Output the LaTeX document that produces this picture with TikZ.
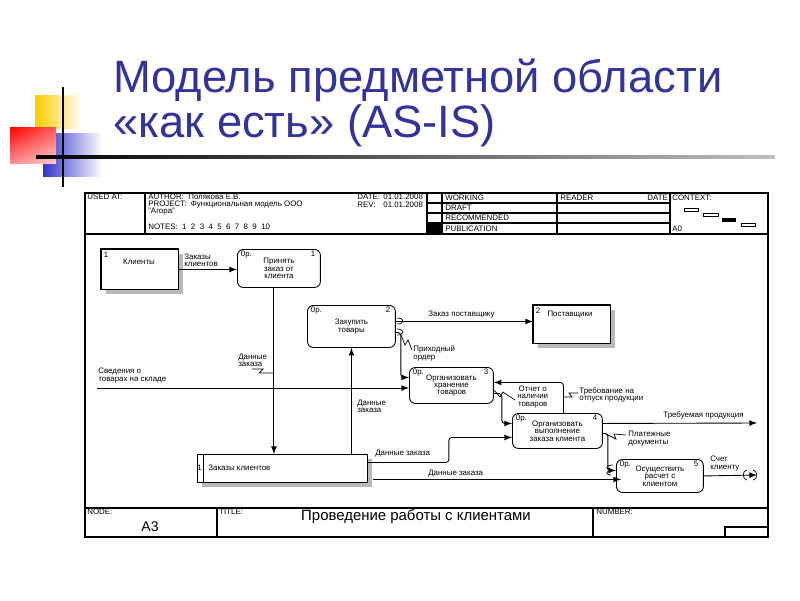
\documentclass[tikz,border=0pt]{standalone}
\usepackage{fontspec}
\setmainfont{Liberation Sans}
\usetikzlibrary{positioning,shadows,shadings}
\definecolor{titleblue}{RGB}{51,51,153}
\definecolor{sqyellow}{RGB}{255,204,0}
\definecolor{sqblue}{RGB}{51,51,204}

\begin{document}
\begin{tikzpicture}[x=0.02cm, y=-0.02cm,
    tx/.style = {font=\fontsize{4.5}{4.2}\selectfont, inner sep=0pt, align=left},
    big/.style = {font=\fontsize{25.8}{30}\selectfont, text=titleblue, inner sep=0pt, anchor=base west},
    proc/.style = {draw, rounded corners=0.12cm, line width=0.5pt, inner sep=0pt, align=center, anchor=north west, font=\fontsize{4.5}{4.2}\selectfont},
    ext/.style = {draw, fill=white, line width=0.5pt, anchor=north west, drop shadow={shadow xshift=0.09cm, shadow yshift=-0.09cm, fill=gray!55, opacity=1}},
    arr/.style = {-latex, line width=0.5pt, rounded corners=0.06cm},
    zig/.style = {line width=0.4pt},
    frm/.style = {line width=0.6pt}]
  \useasboundingbox (0,0) rectangle (800,600);

  % slide title
  \shade[left color=sqyellow, middle color=sqyellow, right color=white] (35,95) rectangle (82,128);
  \shade[left color=sqblue, middle color=sqblue, right color=white] (43,133) rectangle (102,176);
  \shade[upper left=red, upper right=red!65, lower left=red!45, lower right=red!20] (10,127) rectangle (56,163);
  \draw[line width=1pt] (63,87) -- (63,187);
  \shade[left color=black, right color=black!25] (36,155.5) rectangle (775,158.5);
  \node[big] (t1) at (113,92) {Модель предметной области};
  \node[big] (t2) at (113,137) {«как есть» (AS-IS)};

  % frame
  \draw[frm] (85,193) rectangle (768,537);
  \draw[frm] (85,234) -- (768,234);
  \draw[frm] (85,508) -- (768,508);
  \draw[frm] (145,193) -- (145,234);
  \draw[frm] (427,193) -- (427,234);
  \draw[frm] (442,193) -- (442,234);
  \draw[frm] (557,193) -- (557,234);
  \draw[frm] (670,193) -- (670,234);
  \draw[frm] (427,203) -- (670,203);
  \draw[frm] (427,213) -- (670,213);
  \draw[frm] (427,223) -- (670,223);
  \fill (427,223) rectangle (442,234);
  \draw[line width=0.5pt] (684,208) rectangle (698,211);
  \draw[line width=0.5pt] (703,213) rectangle (718,216);
  \fill (722,218) rectangle (736,222);
  \draw[line width=0.5pt] (741,223) rectangle (755,226);
  \draw[frm] (217,508) -- (217,537);
  \draw[frm] (593,508) -- (593,537);
  \draw[frm] (725,537) |- (768,527);

  % header texts
  \node[tx, anchor=west] (h1) at (87,197) {USED AT:};
  \node[tx, anchor=west] (h2) at (148,196.5) {AUTHOR:\ \ Полякова Е.В.};
  \node[tx, anchor=west] (h3) at (148,204.5) {PROJECT:\ \ Функциональная модель ООО};
  \node[tx, anchor=west] (h4) at (148,211.5) {"Агора"};
  \node[tx, anchor=west] (h5) at (148,227) {NOTES:\ \ 1\ \ 2\ \ 3\ \ 4\ \ 5\ \ 6\ \ 7\ \ 8\ \ 9\ \ 10};
  \node[tx, anchor=west] (h6) at (357,196.5) {DATE:};
  \node[tx, anchor=west] (h7) at (383,196.5) {01.01.2008};
  \node[tx, anchor=west] (h8) at (357,204.5) {REV:};
  \node[tx, anchor=west] (h9) at (383,204.5) {01.01.2008};
  \node[tx, anchor=west] (h10) at (445,198) {WORKING};
  \node[tx, anchor=west] (h11) at (445,208) {DRAFT};
  \node[tx, anchor=west] (h12) at (445,218) {RECOMMENDED};
  \node[tx, anchor=west] (h13) at (445,228.5) {PUBLICATION};
  \node[tx, anchor=west] (h14) at (560,198) {READER};
  \node[tx, anchor=west] (h15) at (647,198) {DATE};
  \node[tx, anchor=west] (h16) at (672,198) {CONTEXT:};
  \node[tx, anchor=west] (h17) at (672,229) {A0};

  % footer texts
  \node[tx, anchor=west] (f1) at (87,511.5) {NODE:};
  \node[font=\fontsize{8}{10}\selectfont, inner sep=0pt] (f2) at (150,527) {A3};
  \node[tx, anchor=west] (f3) at (219,511.5) {TITLE:};
  \node[font=\fontsize{8.5}{10}\selectfont, inner sep=0pt] (f4) at (416,517) {Проведение работы с клиентами};
  \node[tx, anchor=west] (f5) at (596,511.5) {NUMBER:};

  % external entities and store
  \node[ext, minimum width=1.54cm, minimum height=0.8cm] (kl) at (101,249) {};
  \draw[line width=1.4pt] (kl.south west) -- (kl.north west) -- (kl.north east);
  \node[tx, below right=1.5pt and 1.5pt of kl.north west] (kl1) {1};
  \node[tx] (kltx) at (139,262) {Клиенты};

  \node[ext, minimum width=1.54cm, minimum height=0.76cm] (post) at (533,305) {};
  \draw[line width=1.4pt] (post.south west) -- (post.north west) -- (post.north east);
  \node[tx, below right=1.5pt and 1.5pt of post.north west] (post1) {2};
  \node[tx] (posttx) at (570,315) {Поставщики};

  \node[ext, minimum width=3.4cm, minimum height=0.56cm] (zk) at (197,454) {};
  \draw[line width=0.5pt] ([xshift=0.12cm]zk.north west) -- ([xshift=0.12cm]zk.south west);
  \node[tx] (zk1) at (199.5,468) {1};
  \node[tx, anchor=west] (zktx) at (208,468) {Заказы клиентов};

  % processes
  \node[proc, minimum width=1.66cm, minimum height=0.76cm] (p1) at (237,249) {Принять\\заказ от\\клиента};
  \node[tx, below right=1pt and 2pt of p1.north west] (p1a) {0р.};
  \node[tx, below left=1pt and 3pt of p1.north east] (p1b) {1};

  \node[proc, minimum width=1.76cm, minimum height=0.84cm] (p2) at (307,305) {Закупить\\товары};
  \node[tx, below right=1pt and 2pt of p2.north west] (p2a) {0р.};
  \node[tx, below left=1pt and 3pt of p2.north east] (p2b) {2};

  \node[proc, minimum width=1.68cm, minimum height=0.72cm] (p3) at (409,367) {Организовать\\хранение\\товаров};
  \node[tx, below right=1pt and 2pt of p3.north west] (p3a) {0р.};
  \node[tx, below left=1pt and 3pt of p3.north east] (p3b) {3};

  \node[proc, minimum width=1.8cm, minimum height=0.7cm] (p4) at (512,413) {Организовать\\выполнение\\заказа клиента};
  \node[tx, below right=1pt and 2pt of p4.north west] (p4a) {0р.};
  \node[tx, below left=1pt and 3pt of p4.north east] (p4b) {4};

  \node[proc, minimum width=1.74cm, minimum height=0.66cm] (p5) at (616,459) {Осуществить\\расчет с\\клиентом};
  \node[tx, below right=1pt and 2pt of p5.north west] (p5a) {0р.};
  \node[tx, below left=1pt and 3pt of p5.north east] (p5b) {5};

  % free ends
  \coordinate (sv) at (97,388);
  \coordinate (out1) at (757,423);
  \coordinate (out2) at (757,475);

  % connectors
  \draw[arr] (kl.east) -- (kl.east -| p1.west);
  \draw[arr] ([xshift=-0.1cm]p1.south) -- ([xshift=-0.1cm]p1.south |- zk.north);
  \draw[arr] (p2.south |- zk.north) -- (p2.south);
  \draw[arr] ([yshift=0.1cm]p2.east) -- ([yshift=0.1cm]p2.east -| post.west);
  \draw[arr] ([yshift=-0.12cm]p2.east) -- ++(5,0) |- ([yshift=0.16cm]p3.west);
  \draw[arr] (sv) -- (sv -| p3.west);
  \draw[arr] ([xshift=0.12cm]p4.north) |- ([yshift=0.06cm]p3.east);
  \draw[arr] ([yshift=-0.16cm]p3.east) -- ++(8,0) |- ([yshift=0.15cm]p4.west);
  \draw[arr] ([yshift=0.12cm]zk.east) -- ++(81,0) |- ([yshift=-0.13cm]p4.west);
  \draw[arr] ([shift={(0.1cm,-0.22cm)}]zk.east) -- ([shift={(0.1cm,-0.22cm)}]zk.east -| p5.west);
  \draw[arr] ([yshift=0.15cm]p4.east) -- (out1);
  \draw[arr] ([yshift=-0.05cm]p4.east) -- ++(5,0) |- ([yshift=0.11cm]p5.west);
  \draw[arr] (p5.east) -- (out2);

  % tunnels
  \draw[zig] (397,318) .. controls (405,318) and (405,324) .. (397,324);
  \draw[zig] (397,329) .. controls (405,329) and (405,335) .. (397,335);
  \draw[zig] (613,465) .. controls (605,465) and (605,470) .. (611,470);
  \draw[zig] (613,470) .. controls (605,470) and (605,475) .. (611,475);
  \draw[zig] (747,470) .. controls (742,470) and (742,480) .. (747,480);
  \draw[zig] (753,470) .. controls (758,470) and (758,480) .. (753,480);

  % labels
  \node[tx, anchor=west] (l1) at (184,260.5) {Заказы\\клиентов};
  \node[tx, anchor=west] (l2) at (428,315) {Заказ поставщику};
  \node[tx, anchor=west] (l3) at (413,353.5) {Приходный\\ордер};
  \node[tx, anchor=west] (l4) at (238,360.5) {Данные\\заказа};
  \node[tx, anchor=west] (l5) at (98,375.5) {Сведения о\\товарах на складе};
  \node[tx, anchor=west] (l6) at (357,406.5) {Данные\\заказа};
  \node[tx, anchor=west, align=center] (l7) at (517,397) {Отчет о\\наличии\\товаров};
  \node[tx, anchor=west] (l8) at (579,395) {Требование на\\отпуск продукции};
  \node[tx, anchor=west] (l9) at (663,415) {Требуемая продукция};
  \node[tx, anchor=west] (l10) at (628,438.5) {Платежные\\документы};
  \node[tx, anchor=west] (l11) at (710,463.5) {Счет\\клиенту};
  \node[tx, anchor=west] (l12) at (375,454) {Данные заказа};
  \node[tx, anchor=west] (l13) at (428,474) {Данные заказа};

  % squiggles
  \draw[zig] (252,369) -- (263,369) -- (259,373) -- (273,373);
  \draw[zig] (401,335) -- (405,345) -- (408,340) -- (412,350);
  \draw[zig] (494,390) -- (500,397) -- (503,392) -- (515,400);
  \draw[zig] (564,397) -- (572,397) -- (569,393) -- (578,393);
  \draw[zig] (606,434) -- (616,439) -- (614,434) -- (626,435);
\end{tikzpicture}
\end{document}
